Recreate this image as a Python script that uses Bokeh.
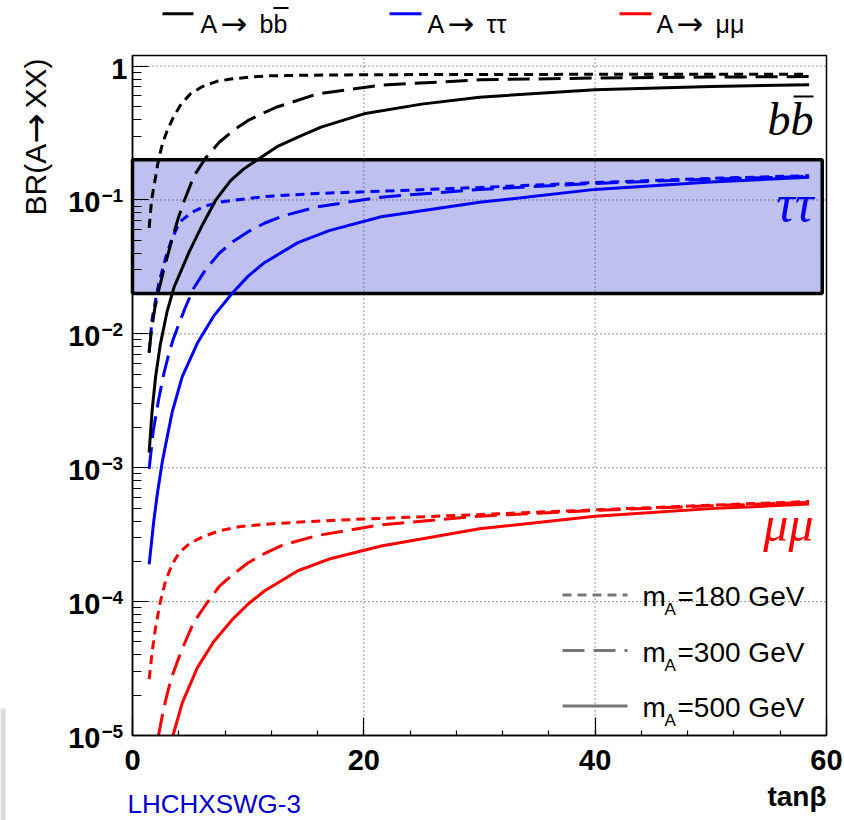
import math
from bokeh.plotting import figure
from bokeh.models import Label, SingleIntervalTicker, LogTicker, CustomJSTickFormatter
from bokeh.embed import file_html
from bokeh.resources import INLINE

# ---------------- data ----------------
# BR(A -> b bbar)
bb_180_x = [1.44, 1.65, 2.0, 2.25, 2.6, 3.0, 3.56, 4.2, 5.0, 6.0, 7.3, 8.5, 10, 11.6, 15, 20, 30, 40, 50, 58.5]
bb_180_y = [0.062, 0.10, 0.15, 0.20, 0.265, 0.33, 0.42, 0.52, 0.62, 0.70, 0.77, 0.80, 0.825, 0.845, 0.855, 0.862, 0.866, 0.868, 0.87, 0.871]
bb_300_x = [1.44, 1.6, 1.9, 2.2, 2.7, 3.4, 3.9, 4.4, 5.3, 6.3, 7.5, 8.7, 10, 11.4, 12.5, 16, 21.5, 30, 40, 50, 58.5]
bb_300_y = [0.0072, 0.010, 0.015, 0.020, 0.030, 0.050, 0.0706, 0.095, 0.15, 0.205, 0.27, 0.33, 0.393, 0.45, 0.495, 0.62, 0.72, 0.79, 0.815, 0.828, 0.835]
bb_500_x = [1.44, 1.7, 2.0, 2.4, 3.0, 3.6, 4.3, 4.9, 6.0, 7.2, 8.5, 9.6, 10.8, 12.5, 14.3, 16.3, 20, 25, 30, 40, 50, 58.5]
bb_500_y = [0.0013, 0.0027, 0.0048, 0.0083, 0.0148, 0.0224, 0.031, 0.041, 0.064, 0.10, 0.14, 0.17, 0.20, 0.25, 0.295, 0.35, 0.44, 0.52, 0.586, 0.665, 0.705, 0.725]

# BR(A -> tau tau)
tt_180_x = [1.44, 1.7, 2.0, 2.28, 2.86, 3.43, 3.86, 4.3, 5.16, 6.3, 7.47, 8.9, 11.4, 16, 20, 30, 40, 50, 58.5]
tt_180_y = [0.0074, 0.013, 0.018, 0.024, 0.037, 0.052, 0.062, 0.071, 0.081, 0.090, 0.096, 0.100, 0.106, 0.112, 0.115, 0.124, 0.135, 0.145, 0.152]
tt_300_x = [1.44, 1.8, 2.28, 2.7, 3.14, 3.5, 4.0, 4.6, 5.3, 6.3, 7.5, 8.7, 10, 11.4, 13, 16, 21.5, 30, 40, 50, 58.5]
tt_300_y = [0.00098, 0.0019, 0.0033, 0.0050, 0.0071, 0.0090, 0.0118, 0.016, 0.022, 0.030, 0.040, 0.049, 0.058, 0.067, 0.076, 0.089, 0.105, 0.120, 0.133, 0.143, 0.150]
tt_500_x = [1.44, 1.84, 2.16, 2.57, 3.0, 3.43, 4.3, 5.6, 7.0, 8.6, 10, 11.4, 14.3, 17, 21.5, 30, 40, 50, 58.5]
tt_500_y = [0.00019, 0.0004, 0.00065, 0.0011, 0.0017, 0.0026, 0.0048, 0.0085, 0.0135, 0.020, 0.027, 0.034, 0.048, 0.059, 0.075, 0.096, 0.120, 0.136, 0.148]

# BR(A -> mu mu)   (the two heavier curves enter the plot at its lower edge)
mm_180_x = [1.44, 1.7, 1.99, 2.42, 2.86, 3.43, 4.0, 4.88, 6.03, 7.47, 9.2, 12.1, 15, 20, 30, 40, 50, 58.5]
mm_180_y = [2.64e-5, 4.2e-5, 6.4e-5, 1.01e-4, 1.43e-4, 1.9e-4, 2.3e-4, 2.7e-4, 3.04e-4, 3.37e-4, 3.63e-4, 3.82e-4, 3.95e-4, 4.14e-4, 4.47e-4, 4.85e-4, 5.25e-4, 5.6e-4]
mm_300_x = [2.25, 2.7, 3.14, 3.5, 4.0, 4.6, 5.3, 6.3, 7.5, 8.7, 10, 11.4, 13, 16, 21.5, 30, 40, 50, 58.5]
mm_300_y = [1.0e-5, 1.6e-5, 2.28e-5, 2.9e-5, 3.8e-5, 5.1e-5, 7.0e-5, 9.4e-5, 1.3e-4, 1.6e-4, 1.95e-4, 2.28e-4, 2.65e-4, 3.12e-4, 3.75e-4, 4.35e-4, 4.8e-4, 5.2e-4, 5.5e-4]
mm_500_x = [3.5, 4.3, 5.6, 7.0, 8.6, 10, 11.4, 14.3, 17, 21.5, 30, 40, 50, 58.5]
mm_500_y = [1.0e-5, 1.75e-5, 3.2e-5, 5.0e-5, 7.3e-5, 9.6e-5, 1.2e-4, 1.7e-4, 2.08e-4, 2.6e-4, 3.5e-4, 4.35e-4, 4.95e-4, 5.35e-4]

# shaded band
band_x = [0.0, 59.63]
band_y = [0.02, 0.2]

# axes
x_min, x_max = 0.0, 60.0
y_min, y_max = 1e-5, 1.2
x_grid = [20, 40]
y_grid = [1e-4, 1e-3, 1e-2, 1e-1, 1.0]
x_ticks_label = ["0", "20", "40", "60"]
y_decades = [1e-5, 1e-4, 1e-3, 1e-2, 1e-1, 1.0]
y_tick_exps = ["\u22125", "\u22124", "\u22123", "\u22122", "\u22121", ""]
mass_labels = ["=180 GeV", "=300 GeV", "=500 GeV"]
top_labels = ["bb", "\u03c4\u03c4", "\u03bc\u03bc"]

# ---------------- styles / layout ----------------
W, H = 844, 820
FL, FR, FT, FB = 132, 826, 55, 735          # pixel box of the plotting area
LY0, LY1 = math.log10(y_min), math.log10(y_max)
PX_PER_X = (FR - FL) / (x_max - x_min)
PX_PER_DEC = (FB - FT) / (LY1 - LY0)
SANS = "Liberation Sans"
ARROWF = "DejaVu Sans"
SERIF = "Liberation Serif"
DOT = "9 6"
LDASH = "22 9"
BLUE = "#0000ff"
RED = "#ff0000"
MID = 0.35  # em offset between the visual middle and the baseline


def dx(px):
    return x_min + (px - FL) / PX_PER_X


def dy(py):
    return 10 ** (LY1 - (py - FT) / PX_PER_DEC)


def py_of(v):
    return FT + (LY1 - math.log10(v)) * PX_PER_DEC


p = figure(width=W, height=H, x_range=(dx(0), dx(W)), y_range=(dy(H), dy(0)),
           y_axis_type="log", output_backend="svg", toolbar_location=None,
           min_border_left=0, min_border_right=0, min_border_top=0, min_border_bottom=0)
p.background_fill_color = "white"
p.border_fill_color = "white"
p.outline_line_color = None
p.xgrid.visible = False
p.ygrid.visible = False

# axes placed at the edges of the plotting box
p.xaxis.fixed_location = y_min
p.xaxis.bounds = (x_min, x_max)
p.xaxis.ticker = SingleIntervalTicker(interval=20, num_minor_ticks=5)
p.xaxis.major_label_overrides = {0: x_ticks_label[0], 20: x_ticks_label[1], 40: x_ticks_label[2], 60: x_ticks_label[3]}
p.xaxis.major_label_text_font = SANS
p.xaxis.major_label_text_font_style = "bold"
p.xaxis.major_label_text_font_size = "29px"
p.xaxis.major_label_text_color = "black"
p.xaxis.major_label_standoff = 14
p.xaxis.major_tick_in = 18
p.xaxis.major_tick_out = 0
p.xaxis.minor_tick_in = 5
p.xaxis.minor_tick_out = 0
p.xaxis.axis_line_width = 1.5
p.xaxis.major_tick_line_width = 1.2
p.xaxis.minor_tick_line_width = 1.2

p.yaxis.fixed_location = x_min
p.yaxis.bounds = (y_min, y_max)
p.yaxis.ticker = LogTicker(desired_num_ticks=6, num_minor_ticks=10)
p.yaxis.formatter = CustomJSTickFormatter(code="return ''")
p.yaxis.major_label_standoff = 0
p.yaxis.major_tick_in = 16
p.yaxis.major_tick_out = 0
p.yaxis.minor_tick_in = 9
p.yaxis.minor_tick_out = 0
p.yaxis.axis_line_width = 1.5
p.yaxis.major_tick_line_width = 1.2
p.yaxis.minor_tick_line_width = 1.2

# shaded band
p.quad(left=[band_x[0]], right=[band_x[1]], bottom=[band_y[0]], top=[band_y[1]],
       fill_color="#bec0f0", fill_alpha=1.0, line_color="black", line_width=3.5, level="image")

# dotted grid
p.segment(x0=x_grid, y0=[y_min] * len(x_grid), x1=x_grid, y1=[y_max] * len(x_grid),
          line_color="#333333", line_width=1, line_dash="1 3", level="underlay")
p.segment(x0=[x_min] * len(y_grid), y0=y_grid, x1=[x_max] * len(y_grid), y1=y_grid,
          line_color="#333333", line_width=1, line_dash="1 3", level="underlay")

# curves
curves = [
    (tt_180_x, tt_180_y, BLUE, DOT), (tt_300_x, tt_300_y, BLUE, LDASH), (tt_500_x, tt_500_y, BLUE, "solid"),
    (mm_180_x, mm_180_y, RED, DOT), (mm_300_x, mm_300_y, RED, LDASH), (mm_500_x, mm_500_y, RED, "solid"),
    (bb_180_x, bb_180_y, "black", DOT), (bb_300_x, bb_300_y, "black", LDASH), (bb_500_x, bb_500_y, "black", "solid"),
]
for xs, ys, col, dash in curves:
    p.line(xs, ys, line_color=col, line_width=3, line_dash=dash)

# frame of the plotting box
p.quad(left=[x_min], right=[x_max], bottom=[y_min], top=[y_max], fill_color=None,
       line_color="black", line_width=1.5)

# little grey strip at the lower left edge of the page
p.quad(left=[dx(0)], right=[dx(5)], bottom=[dy(H)], top=[dy(708)], fill_color="#dcdcdc",
       line_color=None)


def text(px, py_base, s, size, color="black", font=SANS, style="normal", align="left", angle=0):
    """place a label by its baseline (pixel coordinates of the page)"""
    if angle:
        lab = Label(x=dx(px - MID * size), y=dy(py_base), text=s, angle=angle, angle_units="deg",
                    text_font=font, text_font_size=f"{size}px", text_font_style=style,
                    text_color=color, text_align=align, text_baseline="middle")
    else:
        lab = Label(x=dx(px), y=dy(py_base - MID * size), text=s, text_font=font,
                    text_font_size=f"{size}px", text_font_style=style, text_color=color,
                    text_align=align, text_baseline="middle")
    p.add_layout(lab)


def arrow_text(px, py_mid, size, angle=0):
    """a right arrow glyph placed by its visual middle"""
    if angle:
        lab = Label(x=dx(px), y=dy(py_mid), text="\u2192", angle=angle, angle_units="deg",
                    text_font=ARROWF, text_font_size=f"{size}px", text_color="black",
                    text_align="left", text_baseline="middle")
    else:
        lab = Label(x=dx(px), y=dy(py_mid), text="\u2192", text_font=ARROWF,
                    text_font_size=f"{size}px", text_color="black",
                    text_align="left", text_baseline="middle")
    p.add_layout(lab)


# bottom-right legend
leg_rows_py = [594.5, 650.0, 705.5]
leg_dashes = [DOT, LDASH, "solid"]
for rpy, dsh, ml in zip(leg_rows_py, leg_dashes, mass_labels):
    p.segment(x0=[dx(562)], y0=[dy(rpy)], x1=[dx(627)], y1=[dy(rpy)],
              line_color="#777777", line_width=3, line_dash=dsh)
    base = rpy + 11.5
    text(642, base, "m", 28)
    text(664, base + 9, "A", 17)
    text(677, base, ml, 28)

# y tick labels (10 with superscript exponent)
for v, e in zip(y_decades, y_tick_exps):
    tpy = py_of(v)
    if e:
        text(100, tpy + 12.5, "10", 29, style="bold", align="right")
        text(101, tpy + 2.5, e, 19, style="bold")
    else:
        text(127, tpy + 13.5, "1", 29, style="bold", align="right")

# y axis title "BR(A-> XX)" (rotated, reading upwards)
text(45, 215, "BR(A", 30, align="left", angle=90)
arrow_text(45 - MID * 30, 143, 36, angle=90)
text(45, 108, "XX)", 30, align="left", angle=90)

# x axis title and tag
text(826, 806, "tan\u03b2", 28, style="bold", align="right")
text(127, 813, "LHCHXSWG-3", 26, color="#0000cc")

# channel tags on the right
text(813, 135, "bb", 46, font=SERIF, style="italic", align="right")
p.segment(x0=[dx(793)], y0=[dy(96)], x1=[dx(813)], y1=[dy(96)], line_color="black", line_width=2)
text(813, 221, "\u03c4\u03c4", 52, color=BLUE, font=SERIF, style="italic", align="right")
text(813, 541, "\u03bc\u03bc", 50, color=RED, font=SERIF, style="italic", align="right")

# top legend
top_line_px = [(162, 193), (389, 421), (619, 651)]
top_text_px = [200, 427, 656]
top_cols = ["black", BLUE, RED]
for (a, b), tx, col, lab in zip(top_line_px, top_text_px, top_cols, top_labels):
    p.segment(x0=[dx(a)], y0=[dy(13.3)], x1=[dx(b)], y1=[dy(13.3)], line_color=col, line_width=3)
    text(tx, 32, "A", 25)
    arrow_text(tx + 20, 32 - MID * 25, 32)
    text(tx + 59, 32, lab, 25)
p.segment(x0=[dx(273)], y0=[dy(7.5)], x1=[dx(288)], y1=[dy(7.5)], line_color="black", line_width=1.8)

open("out.html", "w").write(file_html(p, INLINE))
